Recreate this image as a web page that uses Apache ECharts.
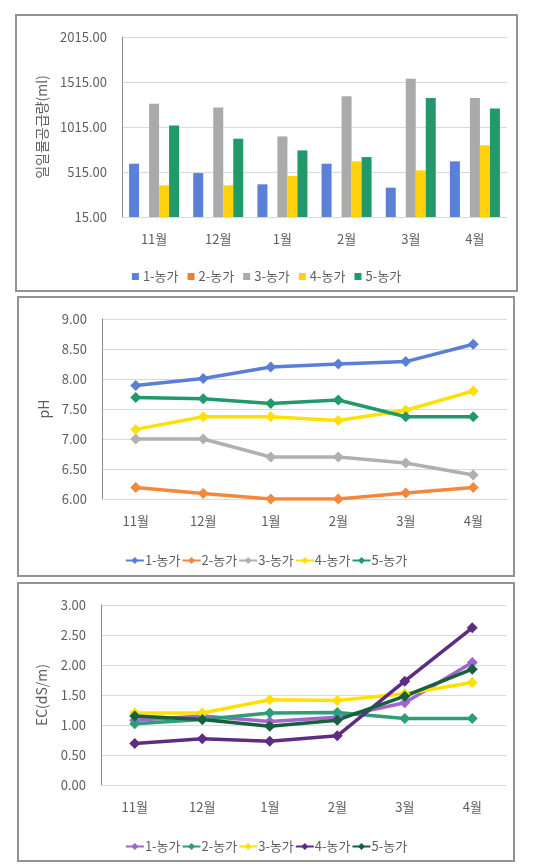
<!DOCTYPE html>
<html>
<head>
<meta charset="utf-8">
<script src="https://cdn.jsdelivr.net/npm/echarts@6/dist/echarts.min.js"></script>
<style>
  html, body { margin: 0; padding: 0; background: #fff; width: 552px; height: 868px; overflow: hidden; }
  .panel { position: absolute; }
  .frame { position: absolute; border: 2px solid #929292; box-sizing: border-box; pointer-events: none; }
</style>
</head>
<body>
<div id="c1" class="panel" style="left:15px;top:14px;width:503px;height:278px;"></div>
<div class="frame" style="left:15px;top:14px;width:503px;height:278px;"></div>
<div id="c2" class="panel" style="left:17px;top:296px;width:498px;height:281px;"></div>
<div class="frame" style="left:17px;top:296px;width:498px;height:281px;"></div>
<div id="c3" class="panel" style="left:17px;top:582px;width:498px;height:280px;"></div>
<div class="frame" style="left:17px;top:582px;width:498px;height:280px;"></div>
<script>
// ---- data ----
const months = ['11월', '12월', '1월', '2월', '3월', '4월'];
const farms = ['1-농가', '2-농가', '3-농가', '4-농가', '5-농가'];

// 일일 물 공급량 (ml)
const water1 = [607, 503, 378, 607, 341, 633];
const water2 = [null, null, null, null, null, null];
const water3 = [1274, 1232, 910, 1358, 1551, 1336];
const water4 = [367, 367, 470, 633, 533, 811];
const water5 = [1033, 885, 755, 681, 1336, 1221];
const waterTicks = [15, 515, 1015, 1515, 2015];

// pH
const ph1 = [7.89, 8.01, 8.20, 8.25, 8.29, 8.58];
const ph2 = [6.19, 6.09, 6.00, 6.00, 6.10, 6.19];
const ph3 = [7.00, 7.00, 6.70, 6.70, 6.60, 6.40];
const ph4 = [7.16, 7.37, 7.37, 7.31, 7.48, 7.80];
const ph5 = [7.69, 7.67, 7.59, 7.65, 7.37, 7.37];

// EC (dS/m)
const ec1 = [1.08, 1.15, 1.06, 1.13, 1.37, 2.04];
const ec2 = [1.02, 1.09, 1.20, 1.21, 1.11, 1.11];
const ec3 = [1.20, 1.20, 1.42, 1.41, 1.52, 1.71];
const ec4 = [0.69, 0.77, 0.73, 0.82, 1.73, 2.62];
const ec5 = [1.15, 1.09, 0.98, 1.08, 1.48, 1.93];

// ---- styles ----
const FONT = '"Noto Sans CJK KR", "Noto Sans", sans-serif';
const TXT = '#5e5e5e';
const GRID = '#d9d9d9';
const waterColors = ['#5a80d8', '#ed7d31', '#aaaaaa', '#ffd20a', '#21996a'];
const phColors = ['#5b7fd6', '#f5873b', '#b0b0b0', '#ffe000', '#21996a'];
const ecColors = ['#a066cc', '#2e9e78', '#ffe000', '#5c2d82', '#17603f'];

function baseXAxis() {
  return {
    type: 'category', data: months,
    axisTick: { show: false },
    axisLine: { show: true, lineStyle: { color: GRID, width: 1 } },
    axisLabel: { color: TXT, fontFamily: FONT, fontSize: 13, margin: 16 }
  };
}

// ---- chart 1: bars ----
const base = waterTicks[0];
const step = waterTicks[1] - waterTicks[0];
const waterSets = [water1, water2, water3, water4, water5];
const c1 = echarts.init(document.getElementById('c1'), null, { renderer: 'canvas' });
c1.setOption({
  animation: false,
  textStyle: { fontFamily: FONT },
  grid: { left: 107, top: 23, width: 385, height: 180 },
  legend: {
    left: 'center', top: 251, itemWidth: 7, itemHeight: 7, itemGap: 9,
    icon: 'rect',
    textStyle: { color: TXT, fontFamily: FONT, fontSize: 13, padding: [0, 0, 0, -1] },
    data: farms
  },
  xAxis: baseXAxis(),
  yAxis: {
    type: 'value', min: 0, max: waterTicks[waterTicks.length - 1] - base, interval: step,
    name: '일일물공급량(ml)', nameLocation: 'middle', nameGap: 73, nameRotate: 90,
    nameTextStyle: { color: TXT, fontFamily: FONT, fontSize: 14 },
    axisLine: { show: true, lineStyle: { color: '#8a8a8a', width: 1 } },
    axisTick: { show: false },
    splitLine: { lineStyle: { color: GRID, width: 1 } },
    axisLabel: { color: TXT, fontFamily: FONT, fontSize: 13, margin: 15,
      formatter: v => (v + base).toFixed(2) }
  },
  series: waterSets.map((arr, i) => ({
    name: farms[i], type: 'bar', barWidth: 10, barGap: '0%',
    itemStyle: { color: waterColors[i] },
    data: arr.map(v => v == null ? null : v - base)
  }))
});

// ---- line charts ----
function lineChart(el, sets, colors, yName, nameGap, gridLeft, min, max) {
  const c = echarts.init(document.getElementById(el), null, { renderer: 'canvas' });
  c.setOption({
    animation: false,
    textStyle: { fontFamily: FONT },
    grid: { left: gridLeft, top: 23, width: 405, height: 180 },
    legend: {
      left: 'center', top: 253, itemWidth: 18, itemHeight: 9, itemGap: 1,
      textStyle: { color: TXT, fontFamily: FONT, fontSize: 13, padding: [0, 0, 0, -4] },
      data: farms
    },
    xAxis: baseXAxis(),
    yAxis: {
      type: 'value', min: min, max: max, interval: 0.5,
      name: yName, nameLocation: 'middle', nameGap: nameGap, nameRotate: 90,
      nameTextStyle: { color: TXT, fontFamily: FONT, fontSize: 14 },
      axisLine: { show: true, lineStyle: { color: '#8a8a8a', width: 1 } },
      axisTick: { show: false },
      splitLine: { lineStyle: { color: GRID, width: 1 } },
      axisLabel: { color: TXT, fontFamily: FONT, fontSize: 13, margin: 15,
        formatter: v => v.toFixed(2) }
    },
    series: sets.map((arr, i) => ({
      name: farms[i], type: 'line', data: arr,
      symbol: 'diamond', symbolSize: 11,
      lineStyle: { color: colors[i], width: 3.5 },
      itemStyle: { color: colors[i] }
    }))
  });
  return c;
}
lineChart('c2', [ph1, ph2, ph3, ph4, ph5], phColors, 'pH', 51, 85, 6, 9);
lineChart('c3', [ec1, ec2, ec3, ec4, ec5], ecColors, 'EC(dS/m)', 52, 84, 0, 3);
</script>
</body>
</html>
